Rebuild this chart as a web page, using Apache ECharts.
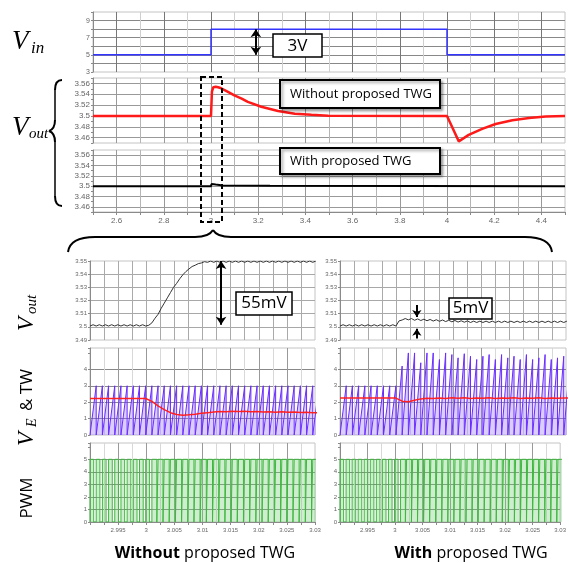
<!DOCTYPE html>
<html>
<head>
<meta charset="utf-8">
<script src="https://cdn.jsdelivr.net/npm/echarts@6/dist/echarts.min.js"></script>
<style>
  html, body { margin: 0; padding: 0; background: #fff; }
  #chart { width: 569px; height: 563px; }
</style>
</head>
<body>
<div id="chart"></div>
<script>
// ---- top section: 2.5 s .. 4.5 s ----
const vinTime = [2.5, 3.0, 3.0, 4.0, 4.0, 4.5];
const vinVal = [5, 5, 8, 8, 5, 5];

const voutNoTwgTime = [2.5, 3.0, 3.004, 3.01, 3.02, 3.03, 3.043, 3.07, 3.099, 3.13, 3.156, 3.213, 3.284, 3.355, 3.426, 3.497,
  4.0, 4.05, 4.092, 4.149, 4.206, 4.277, 4.348, 4.418, 4.5];
const voutNoTwgVal = [3.5, 3.5, 3.545, 3.553, 3.554, 3.553, 3.551, 3.545, 3.538, 3.532, 3.526, 3.517, 3.509, 3.504, 3.502, 3.5005,
  3.5, 3.453, 3.465, 3.476, 3.485, 3.492, 3.496, 3.499, 3.5];

const voutTwgTime = [2.5, 3.0, 3.002, 3.02, 3.05, 3.25, 3.255, 4.5];
const voutTwgVal = [3.5, 3.5, 3.504, 3.503, 3.5015, 3.501, 3.5, 3.5];

// ---- zoomed section: 2.99 s .. 3.03 s, switching cycle start times ----
const swTimes = [2.9900, 2.9911, 2.9922, 2.9933, 2.9944, 2.9955, 2.9966, 2.9977, 2.9988, 2.9999,
  3.0010, 3.0021, 3.0032, 3.0043, 3.0054, 3.0065, 3.0076, 3.0087, 3.0098, 3.0109,
  3.0120, 3.0131, 3.0142, 3.0153, 3.0164, 3.0175, 3.0186, 3.0197, 3.0208, 3.0219,
  3.0230, 3.0241, 3.0252, 3.0263, 3.0274, 3.0285, 3.0296, 3.0307];

// Vout, two samples per cycle (cycle start, mid cycle)
const voutZoomNoTwg = [
  3.5006, 3.5016, 3.5006, 3.5016, 3.5006, 3.5016, 3.5006, 3.5016, 3.5006, 3.5016,
  3.5006, 3.5016, 3.5006, 3.5016, 3.5006, 3.5016, 3.5006, 3.5016, 3.5006, 3.5012,
  3.5030, 3.5065, 3.5095, 3.5140, 3.5180, 3.5220, 3.5260, 3.5300, 3.5330, 3.5365,
  3.5395, 3.5420, 3.5440, 3.5458, 3.5468, 3.5480, 3.5485, 3.5495, 3.5490, 3.5500,
  3.5490, 3.5500, 3.5490, 3.5500, 3.5490, 3.5500, 3.5490, 3.5500, 3.5490, 3.5500,
  3.5490, 3.5500, 3.5490, 3.5500, 3.5490, 3.5500, 3.5490, 3.5500, 3.5490, 3.5500,
  3.5490, 3.5500, 3.5490, 3.5500, 3.5490, 3.5500, 3.5490, 3.5500, 3.5490, 3.5500,
  3.5490, 3.5500, 3.5490, 3.5500];
const voutZoomTwg = [
  3.5006, 3.5016, 3.5006, 3.5016, 3.5006, 3.5016, 3.5006, 3.5016, 3.5006, 3.5016,
  3.5006, 3.5016, 3.5006, 3.5016, 3.5006, 3.5016, 3.5006, 3.5016, 3.5006, 3.5045,
  3.5052, 3.5063, 3.5053, 3.5063, 3.5050, 3.5060, 3.5048, 3.5058, 3.5046, 3.5056,
  3.5044, 3.5054, 3.5042, 3.5052, 3.5040, 3.5050, 3.5038, 3.5048, 3.5036, 3.5046,
  3.5035, 3.5045, 3.5033, 3.5043, 3.5033, 3.5043, 3.5033, 3.5043, 3.5033, 3.5043,
  3.5033, 3.5043, 3.5033, 3.5043, 3.5033, 3.5043, 3.5033, 3.5043, 3.5033, 3.5043,
  3.5033, 3.5043, 3.5033, 3.5043, 3.5033, 3.5043, 3.5033, 3.5043, 3.5033, 3.5043,
  3.5033, 3.5043, 3.5033, 3.5043];

// triangle wave peak per cycle
const twPeakNoTwg = [3, 3, 3, 3, 3, 3, 3, 3, 3, 3, 3, 3, 3, 3, 3, 3, 3, 3, 3, 3,
  3, 3, 3, 3, 3, 3, 3, 3, 3, 3, 3, 3, 3, 3, 3, 3, 3];
const twPeakTwg = [3, 3, 3, 3, 3, 3, 3, 3, 3,
  4.2, 5.0, 5.0, 4.4, 5.0, 5.0, 4.6, 5.0, 4.9, 4.7, 4.95, 4.8, 4.6, 4.8, 4.9, 4.6,
  4.9, 4.7, 4.8, 4.6, 4.9, 4.6, 4.7, 4.9, 4.6, 4.7, 4.8, 4.6];

// error amplifier output VE, one value per cycle
const veNoTwg = [2.22, 2.22, 2.22, 2.22, 2.22, 2.22, 2.22, 2.22, 2.22, 2.22,
  2.05, 1.78, 1.55, 1.36, 1.25, 1.21, 1.23, 1.27, 1.32, 1.36, 1.40, 1.43, 1.42, 1.45,
  1.43, 1.44, 1.41, 1.43, 1.40, 1.42, 1.39, 1.41, 1.38, 1.40, 1.37, 1.39, 1.36];
const veTwg = [2.25, 2.25, 2.25, 2.25, 2.25, 2.25, 2.25, 2.25, 2.25, 2.25,
  2.06, 2.02, 2.12, 2.2, 2.24, 2.22, 2.26, 2.23, 2.27, 2.24, 2.27, 2.23, 2.26, 2.24,
  2.27, 2.23, 2.26, 2.24, 2.27, 2.23, 2.26, 2.24, 2.27, 2.23, 2.26, 2.24, 2.26];

// PWM duty per cycle, high level 5 V
const pwmDuty = [0.6, 0.6, 0.6, 0.6, 0.6, 0.6, 0.6, 0.6, 0.6, 0.6,
  0.8, 0.8, 0.8, 0.8, 0.8, 0.8, 0.8, 0.8, 0.8, 0.8, 0.8, 0.8, 0.8, 0.8,
  0.8, 0.8, 0.8, 0.8, 0.8, 0.8, 0.8, 0.8, 0.8, 0.8, 0.8, 0.8, 0.8];
const pwmHigh = 5;

// annotation arrows (x, y from, y to)
const arrow3V = [3.19, 5, 8];
const arrow55mV = [3.0133, 3.55, 3.5015];
const arrow5mVTop = [3.0036, 3.5165, 3.5075];
const arrow5mVBottom = [3.0036, 3.4912, 3.4985];

// ---------------------------------------------------------------
function pairs(xs, ys) { return xs.map((x, i) => [x, ys[i]]); }

function rampWave(peaks) {
  const pts = [];
  peaks.forEach((p, k) => { pts.push([swTimes[k], 0], [swTimes[k + 1], p]); });
  pts.push([swTimes[peaks.length], 0]);
  return pts;
}
function perCycle(vals) {
  const pts = vals.map((v, k) => [swTimes[k], v]);
  pts.push([swTimes[vals.length], vals[vals.length - 1]]);
  return pts;
}
function rippleTrace(vals) {
  const pts = [];
  for (let k = 0; k < vals.length / 2; k++) {
    pts.push([swTimes[k], vals[2 * k]], [(swTimes[k] + swTimes[k + 1]) / 2, vals[2 * k + 1]]);
  }
  return pts;
}
function pwmWave(duty) {
  const pts = [];
  duty.forEach((d, k) => {
    const t0 = swTimes[k], t1 = swTimes[k + 1];
    const tf = t0 + d * (t1 - t0);
    pts.push([t0, 0], [t0, pwmHigh], [tf, pwmHigh], [tf, 0]);
  });
  pts.push([swTimes[duty.length], 0]);
  return pts;
}

const gridBox = [
  [93, 12, 472, 60],
  [93, 78, 472, 65],
  [93, 150, 472, 62],
  [90, 261, 225, 79],
  [340, 261, 226, 79],
  [90, 348, 225, 87],
  [340, 348, 226, 87],
  [90, 443, 225, 79],
  [340, 443, 226, 79]
];

const axisGray = '#8a8a8a';

function topX(gi, showLabels, colors) {
  return {
    type: 'value', gridIndex: gi, min: 2.5, max: 4.5, interval: 0.1,
    axisLine: { show: showLabels, lineStyle: { color: axisGray } },
    axisTick: { show: showLabels, length: 3, lineStyle: { color: axisGray } },
    axisLabel: {
      show: showLabels, fontSize: 8, color: '#666', margin: 5,
      formatter: v => { const r = Math.round(v * 10); return r % 2 === 0 ? String(r / 10) : ''; }
    },
    splitLine: { show: true, showMinLine: false, showMaxLine: false, lineStyle: { color: colors, width: 1 } }
  };
}
function zoomX(gi, showLabels, colors) {
  return {
    type: 'value', gridIndex: gi, min: 2.99, max: 3.03, interval: 0.0025,
    axisLine: { show: showLabels, lineStyle: { color: axisGray } },
    axisTick: { show: showLabels, length: 3, lineStyle: { color: axisGray } },
    axisLabel: {
      show: showLabels, fontSize: 6, color: '#666', margin: 5,
      formatter: v => { const r = Math.round(v * 10000); return (r % 50 === 0 && r > 29900) ? String(r / 10000) : ''; }
    },
    splitLine: { show: true, showMinLine: false, showMaxLine: false, lineStyle: { color: colors, width: 1 } }
  };
}
function yAx(gi, min, max, interval, fontSize, fmt, colors) {
  return {
    type: 'value', gridIndex: gi, min: min, max: max, interval: interval,
    axisLine: { show: true, lineStyle: { color: axisGray } },
    axisTick: { show: true, length: 2, lineStyle: { color: axisGray } },
    axisLabel: { fontSize: fontSize, color: '#666', margin: 3, formatter: fmt },
    splitLine: { show: true, showMinLine: false, showMaxLine: false, lineStyle: { color: colors, width: 1 } }
  };
}

const fmtVin = v => { const r = Math.round(v); return (r % 2 === 1 && r <= 9) ? String(r) : ''; };
const fmtVoutTop = v => { const r = Math.round(v * 100); return (r % 2 === 0 && r >= 346 && r <= 356) ? String(r / 100) : ''; };
const fmtVoutZoom = v => String(Math.round(v * 100) / 100);
const fmtInt = maxLabel => v => { const r = Math.round(v * 10) / 10; return (Number.isInteger(r) && r <= maxLabel) ? String(r) : ''; };

const lineBase = { type: 'line', showSymbol: false, symbol: 'none', animation: false };

function arrowMark(a, symbols) {
  return {
    silent: true, symbol: symbols, symbolSize: 8,
    label: { show: false },
    lineStyle: { color: '#000', width: 2, type: 'solid' },
    emphasis: { disabled: true },
    data: [[{ coord: [a[0], a[1]] }, { coord: [a[0], a[2]] }]]
  };
}

const mathFont = 'Liberation Serif';
const boxFont = 'Open Sans';

function bz(x1, y1, cx, cy, x2, y2) {
  return { type: 'bezierCurve', z: 100, shape: { x1, y1, x2, y2, cpx1: cx, cpy1: cy },
    style: { stroke: '#000', fill: 'none', lineWidth: 2 } };
}
function ln(x1, y1, x2, y2, w) {
  return { type: 'line', z: 100, shape: { x1, y1, x2, y2 }, style: { stroke: '#000', lineWidth: w || 2 } };
}
function txt(x, y, text, size, extra) {
  return {
    type: 'text', z: 101, x: x, y: y,
    style: Object.assign({ text: text, fontSize: size, fontFamily: boxFont, fill: '#000',
      align: 'left', verticalAlign: 'top', textAlign: 'left', textVerticalAlign: 'top' }, extra || {})
  };
}
function box(x, y, w, h, lw, shadow) {
  const s = { fill: '#fff', stroke: '#000', lineWidth: lw };
  if (shadow) Object.assign(s, { shadowColor: 'rgba(0,0,0,0.35)', shadowBlur: 3, shadowOffsetX: 2, shadowOffsetY: 2 });
  return { type: 'rect', z: 100, shape: { x, y, width: w, height: h }, style: s };
}
const italic = { fontFamily: mathFont, fontStyle: 'italic' };
const centered = { align: 'center', verticalAlign: 'middle', textAlign: 'center', textVerticalAlign: 'middle' };
const middle = { verticalAlign: 'middle', textVerticalAlign: 'middle' };

const option = {
  animation: false,
  backgroundColor: '#fff',
  textStyle: { fontFamily: 'Liberation Sans' },
  grid: gridBox.map(b => ({
    left: b[0], top: b[1], width: b[2], height: b[3],
    show: true, borderColor: '#c4c4c4', borderWidth: 1, containLabel: false
  })),
  xAxis: [
    topX(0, false, ['#777', '#cfcfcf']),
    topX(1, false, ['#999', '#b5b5b5']),
    topX(2, true, ['#999', '#b5b5b5']),
    zoomX(3, false, ['#aaa']),
    zoomX(4, false, ['#aaa']),
    zoomX(5, false, ['#d8d8d8', '#999']),
    zoomX(6, false, ['#d8d8d8', '#999']),
    zoomX(7, true, ['#d8d8d8', '#999']),
    zoomX(8, true, ['#d8d8d8', '#999'])
  ],
  yAxis: [
    yAx(0, 3, 10, 1, 7, fmtVin, ['#888']),
    yAx(1, 3.45, 3.57, 0.01, 8, fmtVoutTop, ['#999', 'transparent']),
    yAx(2, 3.45, 3.57, 0.01, 8, fmtVoutTop, ['#999', 'transparent']),
    yAx(3, 3.49, 3.55, 0.01, 6, fmtVoutZoom, ['#a8a8a8']),
    yAx(4, 3.49, 3.55, 0.01, 6, fmtVoutZoom, ['#a8a8a8']),
    yAx(5, 0, 5.3, 1, 6, fmtInt(4), ['#888', '#888', '#888', '#888', 'transparent']),
    yAx(6, 0, 5.3, 1, 6, fmtInt(4), ['#888', '#888', '#888', '#888', 'transparent']),
    yAx(7, 0, 6.3, 1, 6, fmtInt(5), ['#888', '#888', '#888', '#888', '#888', 'transparent']),
    yAx(8, 0, 6.3, 1, 6, fmtInt(5), ['#888', '#888', '#888', '#888', '#888', 'transparent'])
  ],
  series: [
    Object.assign({}, lineBase, { name: 'Vin', xAxisIndex: 0, yAxisIndex: 0, data: pairs(vinTime, vinVal),
      lineStyle: { color: '#3434ff', width: 1.5 }, markLine: arrowMark(arrow3V, ['arrow', 'arrow']) }),
    Object.assign({}, lineBase, { name: 'Vout without TWG', xAxisIndex: 1, yAxisIndex: 1, data: pairs(voutNoTwgTime, voutNoTwgVal),
      lineStyle: { color: '#ff1a1a', width: 2.5 } }),
    Object.assign({}, lineBase, { name: 'Vout with TWG', xAxisIndex: 2, yAxisIndex: 2, data: pairs(voutTwgTime, voutTwgVal),
      lineStyle: { color: '#000', width: 2 } }),
    Object.assign({}, lineBase, { name: 'Vout zoom without', xAxisIndex: 3, yAxisIndex: 3, data: rippleTrace(voutZoomNoTwg),
      lineStyle: { color: '#333', width: 1 }, markLine: arrowMark(arrow55mV, ['arrow', 'arrow']) }),
    Object.assign({}, lineBase, { name: 'Vout zoom with', xAxisIndex: 4, yAxisIndex: 4, data: rippleTrace(voutZoomTwg),
      lineStyle: { color: '#333', width: 1 },
      markLine: {
        silent: true, symbol: ['none', 'arrow'], symbolSize: 7, label: { show: false },
        lineStyle: { color: '#000', width: 2, type: 'solid' }, emphasis: { disabled: true },
        data: [
          [{ coord: [arrow5mVTop[0], arrow5mVTop[1]] }, { coord: [arrow5mVTop[0], arrow5mVTop[2]] }],
          [{ coord: [arrow5mVBottom[0], arrow5mVBottom[1]] }, { coord: [arrow5mVBottom[0], arrow5mVBottom[2]] }]
        ]
      } }),
    Object.assign({}, lineBase, { name: 'TW without', xAxisIndex: 5, yAxisIndex: 5, data: rampWave(twPeakNoTwg),
      lineStyle: { color: '#6a2cff', width: 1 }, areaStyle: { color: 'rgba(140,100,255,0.45)', origin: 0 } }),
    Object.assign({}, lineBase, { name: 'VE without', xAxisIndex: 5, yAxisIndex: 5, data: perCycle(veNoTwg),
      lineStyle: { color: '#ff2020', width: 1.5 } }),
    Object.assign({}, lineBase, { name: 'TW with', xAxisIndex: 6, yAxisIndex: 6, data: rampWave(twPeakTwg),
      lineStyle: { color: '#6a2cff', width: 1 }, areaStyle: { color: 'rgba(140,100,255,0.45)', origin: 0 } }),
    Object.assign({}, lineBase, { name: 'VE with', xAxisIndex: 6, yAxisIndex: 6, data: perCycle(veTwg),
      lineStyle: { color: '#ff2020', width: 1.5 } }),
    Object.assign({}, lineBase, { name: 'PWM without', xAxisIndex: 7, yAxisIndex: 7, data: pwmWave(pwmDuty),
      lineStyle: { color: '#3fb83f', width: 1 }, areaStyle: { color: 'rgba(120,205,120,0.5)', origin: 0 } }),
    Object.assign({}, lineBase, { name: 'PWM with', xAxisIndex: 8, yAxisIndex: 8, data: pwmWave(pwmDuty),
      lineStyle: { color: '#3fb83f', width: 1 }, areaStyle: { color: 'rgba(120,205,120,0.5)', origin: 0 } })
  ],
  graphic: [
    // V_in and V_out labels
    txt(12, 28, 'V', 27, italic),
    txt(31, 40, 'in', 17, italic),
    txt(12, 114, 'V', 27, italic),
    txt(29, 127, 'out', 15, italic),
    // left brace for V_out
    bz(62, 80, 55, 80, 55, 90), ln(55, 90, 55, 120, 1.5),
    bz(55, 120, 55, 129, 49, 131), bz(49, 131, 55, 133, 55, 142),
    ln(55, 142, 55, 196, 1.5), bz(55, 196, 55, 206, 62, 206),
    // 3V box
    box(273, 34, 49, 23, 1.5, false),
    txt(297.5, 46, '3V', 17, centered),
    // TWG boxes
    box(280, 80, 160, 28, 2, true),
    txt(290, 94, 'Without proposed TWG', 13, middle),
    box(280, 148, 160, 26, 2, true),
    txt(290, 161, 'With proposed TWG', 13, middle),
    // dashed zoom window
    { type: 'rect', z: 100, shape: { x: 201, y: 77, width: 21, height: 145 },
      style: { fill: 'none', stroke: '#000', lineWidth: 2, lineDash: [5, 3] } },
    // big brace
    bz(68, 252, 70, 237, 95, 237), ln(95, 237, 195, 237),
    bz(195, 237, 209, 237, 213, 230), bz(213, 230, 217, 237, 231, 237),
    ln(231, 237, 525, 237), bz(525, 237, 550, 237, 552, 252),
    // mV boxes
    box(236, 292, 56, 23, 1.5, false),
    txt(264, 303.5, '55mV', 17, centered),
    box(449, 298, 43, 21, 1.5, false),
    txt(470.5, 308.5, '5mV', 17, centered),
    // rotated row labels
    { type: 'group', x: 27, y: 331, rotation: Math.PI / 2, children: [
      txt(0, 0, 'V', 23, Object.assign({}, middle, italic)),
      txt(17, 5, 'out', 15, Object.assign({}, middle, italic))
    ] },
    { type: 'group', x: 27, y: 446, rotation: Math.PI / 2, children: [
      txt(0, 0, 'V', 23, Object.assign({}, middle, italic)),
      txt(19, 5, 'E', 14, Object.assign({}, middle, italic)),
      txt(35, 0, '& TW', 17, middle)
    ] },
    { type: 'group', x: 27, y: 498, rotation: Math.PI / 2, children: [
      txt(0, 0, 'PWM', 17, centered)
    ] },
    // bottom titles
    txt(205, 553, '{b|Without} proposed TWG', 16, Object.assign({
      rich: { b: { fontWeight: 'bold', fontSize: 16, fontFamily: boxFont } } }, centered)),
    txt(471, 553, '{b|With} proposed TWG', 16, Object.assign({
      rich: { b: { fontWeight: 'bold', fontSize: 16, fontFamily: boxFont } } }, centered))
  ]
};

const chart = echarts.init(document.getElementById('chart'), null, { renderer: 'canvas' });
chart.setOption(option);
</script>
</body>
</html>
